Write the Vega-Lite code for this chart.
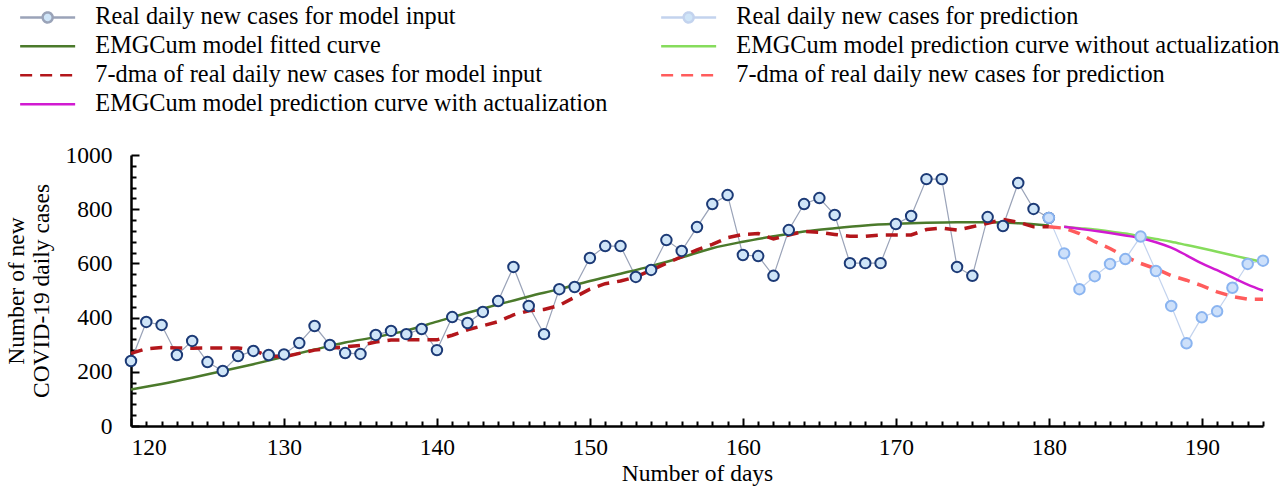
{
  "$schema": "https://vega.github.io/schema/vega-lite/v6.json",
  "width": 1132,
  "height": 271,
  "autosize": {"type": "none"},
  "padding": {"left": 131, "top": 155, "right": 22, "bottom": 63},
  "config": {
    "view": {"stroke": null},
    "font": "Liberation Serif",
    "axis": {
      "grid": false,
      "domainColor": "black",
      "domainWidth": 2.5,
      "tickColor": "black",
      "tickWidth": 2,
      "labelFont": "Liberation Serif",
      "labelFontSize": 23.5,
      "labelColor": "black",
      "labelOverlap": false,
      "titleFont": "Liberation Serif",
      "titleFontSize": 23.5,
      "titleFontWeight": "normal",
      "titleColor": "black"
    }
  },
  "datasets": {
    "realIn": [
      {"day":120,"value":240},{"day":121,"value":384},{"day":122,"value":373},{"day":123,"value":262},{"day":124,"value":314},
      {"day":125,"value":236},{"day":126,"value":203},{"day":127,"value":258},{"day":128,"value":277},{"day":129,"value":262},
      {"day":130,"value":264},{"day":131,"value":306},{"day":132,"value":369},{"day":133,"value":299},{"day":134,"value":269},
      {"day":135,"value":266},{"day":136,"value":336},{"day":137,"value":351},{"day":138,"value":339},{"day":139,"value":358},
      {"day":140,"value":280},{"day":141,"value":402},{"day":142,"value":380},{"day":143,"value":421},{"day":144,"value":461},
      {"day":145,"value":587},{"day":146,"value":443},{"day":147,"value":339},{"day":148,"value":505},{"day":149,"value":513},
      {"day":150,"value":620},{"day":151,"value":664},{"day":152,"value":664},{"day":153,"value":550},{"day":154,"value":576},
      {"day":155,"value":686},{"day":156,"value":646},{"day":157,"value":734},{"day":158,"value":819},{"day":159,"value":852},
      {"day":160,"value":631},{"day":161,"value":627},{"day":162,"value":554},{"day":163,"value":723},{"day":164,"value":819},
      {"day":165,"value":841},{"day":166,"value":779},{"day":167,"value":601},{"day":168,"value":601},{"day":169,"value":601},
      {"day":170,"value":745},{"day":171,"value":775},{"day":172,"value":911},{"day":173,"value":911},{"day":174,"value":587},
      {"day":175,"value":554},{"day":176,"value":771},{"day":177,"value":738},{"day":178,"value":897},{"day":179,"value":801},
      {"day":180,"value":768}
    ],
    "realPred": [
      {"day":180,"value":768},{"day":181,"value":637},{"day":182,"value":505},{"day":183,"value":553},{"day":184,"value":598},
      {"day":185,"value":616},{"day":186,"value":699},{"day":187,"value":572},{"day":188,"value":443},{"day":189,"value":305},
      {"day":190,"value":401},{"day":191,"value":423},{"day":192,"value":510},{"day":193,"value":598},{"day":194,"value":610}
    ],
    "fit": [
      {"day":120,"value":135},{"day":122,"value":155},{"day":124,"value":178},{"day":126,"value":203},{"day":128,"value":228},
      {"day":130,"value":255},{"day":132,"value":282},{"day":134,"value":308},{"day":136,"value":328},{"day":138,"value":352},
      {"day":140,"value":385},{"day":142,"value":418},{"day":144,"value":448},{"day":146,"value":478},{"day":148,"value":505},
      {"day":150,"value":535},{"day":152,"value":562},{"day":154,"value":590},{"day":156,"value":622},{"day":158,"value":656},
      {"day":160,"value":680},{"day":162,"value":700},{"day":164,"value":718},{"day":166,"value":730},{"day":168,"value":740},
      {"day":170,"value":746},{"day":172,"value":750},{"day":174,"value":752},{"day":176,"value":752},{"day":178,"value":748},
      {"day":180,"value":740}
    ],
    "withoutAct": [
      {"day":181,"value":735},{"day":182,"value":730},{"day":183,"value":725},{"day":184,"value":718},{"day":185,"value":710},
      {"day":186,"value":700},{"day":187,"value":690},{"day":188,"value":680},{"day":189,"value":668},{"day":190,"value":656},
      {"day":191,"value":643},{"day":192,"value":630},{"day":193,"value":617},{"day":194,"value":605}
    ],
    "withAct": [
      {"day":181,"value":735},{"day":182,"value":728},{"day":183,"value":720},{"day":184,"value":712},{"day":185,"value":703},
      {"day":186,"value":693},{"day":187,"value":678},{"day":188,"value":658},{"day":189,"value":630},{"day":190,"value":600},
      {"day":191,"value":575},{"day":192,"value":548},{"day":193,"value":522},{"day":194,"value":500}
    ],
    "dmaIn": [
      {"day":120,"value":268},{"day":121,"value":285},{"day":122,"value":290},{"day":123,"value":288},{"day":124,"value":287},
      {"day":125,"value":288},{"day":126,"value":288},{"day":127,"value":288},{"day":128,"value":280},{"day":129,"value":258},
      {"day":130,"value":255},{"day":131,"value":268},{"day":132,"value":280},{"day":133,"value":287},{"day":134,"value":292},
      {"day":135,"value":297},{"day":136,"value":310},{"day":137,"value":317},{"day":138,"value":318},{"day":139,"value":318},
      {"day":140,"value":318},{"day":141,"value":335},{"day":142,"value":355},{"day":143,"value":370},{"day":144,"value":385},
      {"day":145,"value":410},{"day":146,"value":425},{"day":147,"value":430},{"day":148,"value":445},{"day":149,"value":475},
      {"day":150,"value":505},{"day":151,"value":525},{"day":152,"value":535},{"day":153,"value":550},{"day":154,"value":575},
      {"day":155,"value":600},{"day":156,"value":625},{"day":157,"value":650},{"day":158,"value":670},{"day":159,"value":695},
      {"day":160,"value":707},{"day":161,"value":710},{"day":162,"value":690},{"day":163,"value":705},{"day":164,"value":718},
      {"day":165,"value":715},{"day":166,"value":707},{"day":167,"value":700},{"day":168,"value":700},{"day":169,"value":705},
      {"day":170,"value":705},{"day":171,"value":705},{"day":172,"value":725},{"day":173,"value":730},{"day":174,"value":723},
      {"day":175,"value":735},{"day":176,"value":748},{"day":177,"value":762},{"day":178,"value":752},{"day":179,"value":735},
      {"day":180,"value":735}
    ],
    "dmaPred": [
      {"day":180,"value":735},{"day":181,"value":730},{"day":182,"value":710},{"day":183,"value":680},{"day":184,"value":655},
      {"day":185,"value":625},{"day":186,"value":600},{"day":187,"value":580},{"day":188,"value":555},{"day":189,"value":538},
      {"day":190,"value":518},{"day":191,"value":495},{"day":192,"value":478},{"day":193,"value":468},{"day":194,"value":468}
    ]
  },
  "encoding": {
    "x": {
      "field": "day", "type": "quantitative",
      "scale": {"domain": [120, 194], "nice": false, "zero": false},
      "axis": {
        "title": "Number of days",
        "values": [120,121,122,123,124,125,126,127,128,129,130,131,132,133,134,135,136,137,138,139,140,141,142,143,144,145,146,147,148,149,150,151,152,153,154,155,156,157,158,159,160,161,162,163,164,165,166,167,168,169,170,171,172,173,174,175,176,177,178,179,180,181,182,183,184,185,186,187,188,189,190,191,192,193,194],
        "format": "d",
        "labelFont": "Liberation Serif",
        "labelExpr": "datum.value % 10 === 0 ? datum.label : ''",
        "tickSize": {"condition": {"test": "datum.value % 10 === 0", "value": -8}, "value": -5},
        "labelPadding": 17,
        "titlePadding": 0
      }
    },
    "y": {
      "field": "value", "type": "quantitative",
      "scale": {"domain": [0, 1000], "nice": false},
      "axis": {
        "title": ["Number of new", "COVID-19 daily cases"],
        "titleLineHeight": 25,
        "format": "d",
        "labelFont": "Liberation Serif",
        "values": [0,40,80,120,160,200,240,280,320,360,400,440,480,520,560,600,640,680,720,760,800,840,880,920,960,1000],
        "labelExpr": "datum.value % 200 === 0 ? datum.label : ''",
        "tickSize": {"condition": {"test": "datum.value % 200 === 0", "value": -8}, "value": -5},
        "labelPadding": 27,
        "titlePadding": 12
      }
    }
  },
  "layer": [
    {
      "data": {"name": "realIn"},
      "mark": {"type": "line", "strokeWidth": 1.2},
      "encoding": {
        "color": {
          "datum": "Real daily new cases for model input",
          "type": "nominal",
          "scale": {
            "domain": [
              "Real daily new cases for model input",
              "EMGCum model fitted curve",
              "7-dma of real daily new cases for model input",
              "EMGCum model prediction curve with actualization",
              "Real daily new cases for prediction",
              "EMGCum model prediction curve without actualization",
              "7-dma of real daily new cases for prediction"
            ],
            "range": ["#9aa3b8", "#4b7a2b", "#b3161b", "#d11ad1", "#c3d3ee", "#86dc5c", "#ff5c5c"]
          },
          "legend": {
            "orient": "none",
            "legendX": -118,
            "legendY": -150,
            "columns": 2,
            "title": null,
            "labelFont": "Liberation Serif",
            "labelFontSize": 24.3,
            "labelColor": "black",
            "labelLimit": 1000,
            "columnPadding": 46,
            "rowPadding": 4,
            "symbolSize": 100,
            "labelOffset": 58,
            "symbolStrokeWidth": 2.5,
            "encode": {
              "symbols": {
                "update": {
                  "shape": {"signal": "indexof(datum.value,'Real daily')===0 ? 'M-1,0H3.5M5.5,0H10M5.5,0A1,1 0 1,1 3.5,0A1,1 0 1,1 5.5,0' : 'M-1,0H10'"},
                  "strokeDash": {"signal": "indexof(datum.value,'7-dma')===0 ? [12,8] : [1,0]"},
                  "stroke": {"signal": "datum.value === 'Real daily new cases for model input' ? '#1c3a76' : datum.value === 'Real daily new cases for prediction' ? '#8ab4f0' : scale('color', datum.value)"},
                  "fill": {"signal": "indexof(datum.value,'Real daily')===0 ? '#cfe5f8' : 'transparent'"}
                }
              }
            }
          }
        }
      }
    },
    {
      "data": {"name": "realPred"},
      "mark": {"type": "line", "strokeWidth": 1.2},
      "encoding": {"color": {"datum": "Real daily new cases for prediction", "type": "nominal"}}
    },
    {
      "data": {"name": "fit"},
      "mark": {"type": "line", "strokeWidth": 2.5, "interpolate": "monotone"},
      "encoding": {"color": {"datum": "EMGCum model fitted curve", "type": "nominal"}}
    },
    {
      "data": {"name": "withoutAct"},
      "mark": {"type": "line", "strokeWidth": 2.5, "interpolate": "monotone"},
      "encoding": {"color": {"datum": "EMGCum model prediction curve without actualization", "type": "nominal"}}
    },
    {
      "data": {"name": "dmaIn"},
      "mark": {"type": "line", "strokeWidth": 3.5, "strokeDash": [12, 8]},
      "encoding": {"color": {"datum": "7-dma of real daily new cases for model input", "type": "nominal"}}
    },
    {
      "data": {"name": "dmaPred"},
      "mark": {"type": "line", "strokeWidth": 3.5, "strokeDash": [12, 8]},
      "encoding": {"color": {"datum": "7-dma of real daily new cases for prediction", "type": "nominal"}}
    },
    {
      "data": {"name": "withAct"},
      "mark": {"type": "line", "strokeWidth": 2.5, "interpolate": "monotone"},
      "encoding": {"color": {"datum": "EMGCum model prediction curve with actualization", "type": "nominal"}}
    },
    {
      "data": {"name": "realIn"},
      "mark": {"type": "point", "shape": "circle", "filled": true, "fill": "#cfe5f8", "stroke": "#1c3a76", "strokeWidth": 2, "size": 110, "opacity": 1}
    },
    {
      "data": {"name": "realPred"},
      "mark": {"type": "point", "shape": "circle", "filled": true, "fill": "#cde0fa", "stroke": "#8ab4f0", "strokeWidth": 2, "size": 110, "opacity": 1}
    }
  ]
}
